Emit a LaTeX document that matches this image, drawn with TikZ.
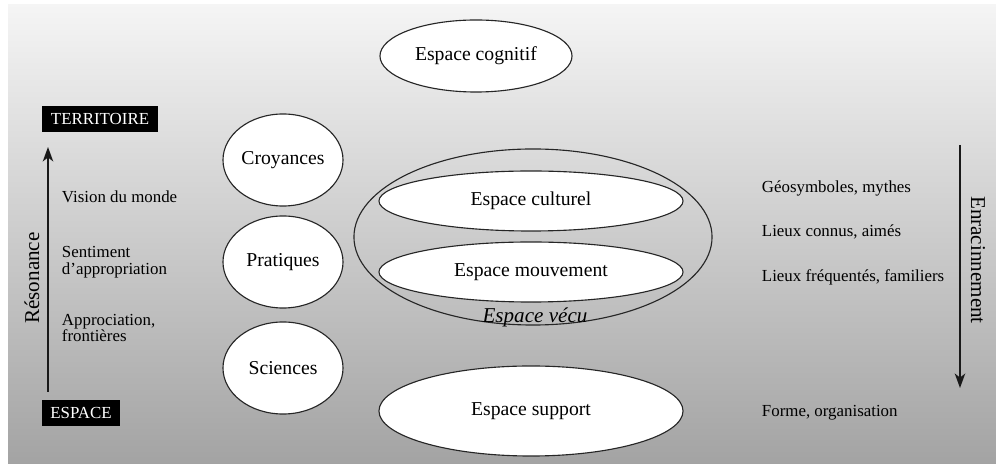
\documentclass[tikz,border=0pt]{standalone}
\usepackage{fontspec}
\setmainfont{Liberation Serif}
\usetikzlibrary{shapes.geometric,arrows.meta}

\begin{document}
\begin{tikzpicture}[x=0.025cm, y=-0.025cm, >={Stealth[length=3.6mm, width=2.6mm, inset=1mm]}]
			\tikzset{
				espace/.style={ellipse, inner sep=0pt, draw=black!85, line width=0.8pt, fill=white, font=\fontsize{14}{14}\selectfont},
				pratique/.style={espace, minimum width=3cm, minimum height=2.3cm},
				strate/.style={espace, minimum width=7.6cm, minimum height=1.5cm},
				pole/.style={rectangle, fill=black, text=white, inner sep=0pt, minimum height=0.65cm, font=\fontsize{12}{12}\selectfont},
				niveau/.style={anchor=west, align=left, font=\fontsize{12}{12}\selectfont},
				axe/.style={font=\fontsize{15}{15}\selectfont},
				fleche/.style={->, line width=1.4pt, black!90},
			}
			\useasboundingbox (0,0) rectangle (996,464);
			\shade[top color=black!4, bottom color=black!36] (8,5) rectangle (996,464);
			%left axis
			\node[pole, minimum width=2.875cm](territoire) at (100,119){TERRITOIRE};
			\node[pole, minimum width=1.925cm](espace) at (81,413){ESPACE};
			\coordinate (resbas) at (48,392);
			\coordinate (reshaut) at (48,147);
			\node[axe, rotate=90](resonance) at (32,278){Résonance};
			\node[niveau](vision) at (57,197){Vision du monde};
			\node[niveau](sentiment) at (57,262){Sentiment\\d'appropriation};
			\node[niveau](frontieres) at (57,328){Approciation,\\frontières};
			%practices
			\node[pratique](croyances) at (283,160){Croyances};
			\node[pratique](pratiques) at (283,262){Pratiques};
			\node[pratique](sciences) at (283,368){Sciences};
			%spaces
			\node[espace, minimum width=4.8cm, minimum height=1.8cm](cognitif) at (476,56){Espace cognitif};
			\node[ellipse, draw=black!85, line width=0.8pt, minimum width=8.95cm, minimum height=4.4cm](vecu) at (533,237){};
			\node[strate](culturel) at (531,201){Espace culturel};
			\node[strate](mouvement) at (531,272){Espace mouvement};
			\node[font=\fontsize{15}{15}\itshape](vecutxt) at (535,317){Espace vécu};
			\node[espace, minimum width=7.6cm, minimum height=2.25cm](support) at (531,411){Espace support};
			%right axis
			\coordinate (enrhaut) at (960,145);
			\coordinate (enrbas) at (960,388);
			\node[axe, rotate=-90](enracinement) at (978,260){Enracinnement};
			\node[niveau](geosymboles) at (757,188){Géosymboles, mythes};
			\node[niveau](connus) at (757,232){Lieux connus, aimés};
			\node[niveau](frequentes) at (757,277){Lieux fréquentés, familiers};
			\node[niveau](forme) at (757,413){Forme, organisation};
			%draw arrows
			\draw[fleche] (resbas) -- (reshaut);
			\draw[fleche] (enrhaut) -- (enrbas);
		\end{tikzpicture}
\end{document}
